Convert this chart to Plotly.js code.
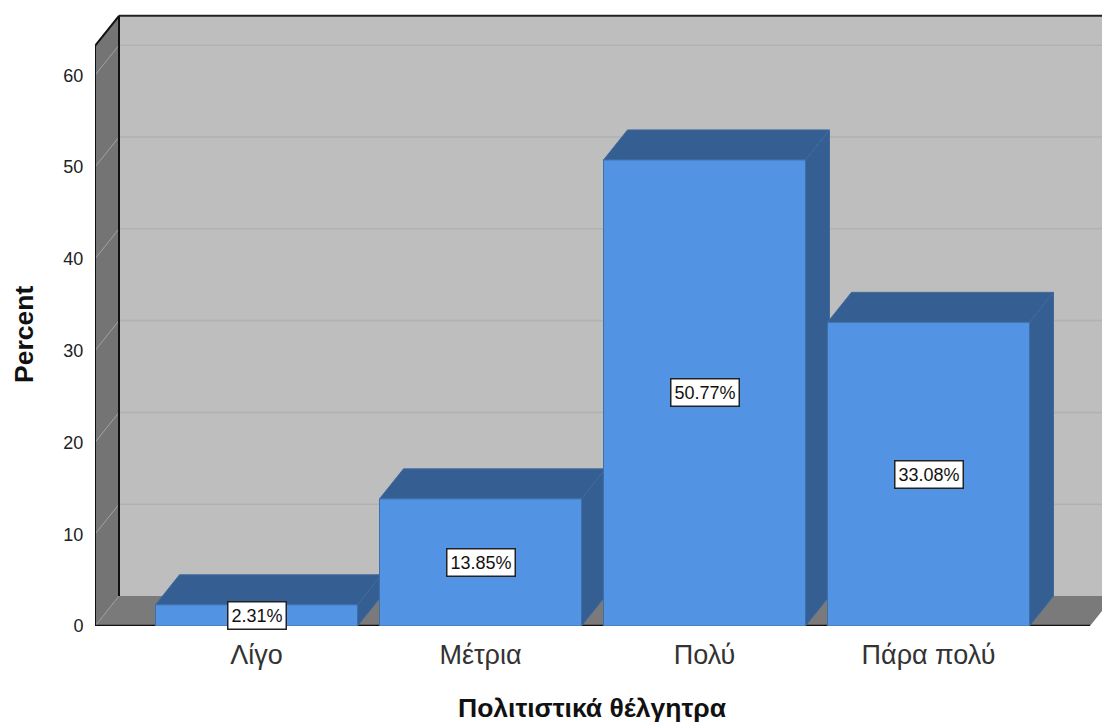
<!DOCTYPE html>
<html><head><meta charset="utf-8">
<script src="https://cdn.plot.ly/plotly-3.0.1.min.js"></script>
<style>html,body{margin:0;padding:0;background:#fff;overflow:hidden}</style>
</head><body><div id="chart" style="width:1102px;height:722px"></div>
<script>
const categories = ['Λίγο', 'Μέτρια', 'Πολύ', 'Πάρα πολύ'];
const percentValues = [2.31, 13.85, 50.77, 33.08];
const yTicks = [0, 10, 20, 30, 40, 50, 60];
const xTitle = 'Πολιτιστικά θέλγητρα';
const yTitle = 'Percent';

const pxPerY = 9.18, pxPerX = 224;
const depthX = 24 / pxPerX, depthY = 30 / pxPerY;
const barWidth = 202 / pxPerX;
const xMin = (95 - 256.5) / pxPerX, xMax = (1102 - 256.5) / pxPerX;
const wallRight = (1090 - 256.5) / pxPerX;
const wallTop = 63.2;
const idx = categories.map((_, i) => i);

const FONT = 'Liberation Sans, Arial, sans-serif';
const FRONT = '#5294E3', SHADE = '#355E92', EDGE = '#3F6FA8';

function poly(pts, fill, line, width) {
  const path = pts.map((p, i) => (i ? 'L' : 'M') + p[0] + ',' + p[1]).join(' ') + ' Z';
  return {type: 'path', xref: 'x', yref: 'y', layer: 'below', path,
    fillcolor: fill, line: {color: line || fill, width: width === undefined ? 1 : width}};
}
function seg(x0, y0, x1, y1, color, width) {
  return {type: 'line', xref: 'x', yref: 'y', layer: 'below', x0, y0, x1, y1,
    line: {color, width}};
}

const shapes = [];
// back wall, left wall, floor
shapes.push(poly([[xMin + depthX, depthY], [xMax + 1, depthY], [xMax + 1, wallTop + depthY], [xMin + depthX, wallTop + depthY]], '#BEBEBE', '#BEBEBE', 0));
shapes.push(poly([[xMin, 0], [xMin + depthX, depthY], [xMin + depthX, wallTop + depthY], [xMin, wallTop]], '#747474', '#747474', 0));
shapes.push(poly([[xMin, 0], [wallRight, 0], [wallRight + depthX, depthY], [xMin + depthX, depthY]], '#7A7A7A', '#7A7A7A', 0));
// gridlines
yTicks.slice(1).forEach(v => {
  shapes.push(seg(xMin, v, xMin + depthX, v + depthY, '#A2A2A2', 1));
  shapes.push(seg(xMin + depthX, v + depthY, xMax, v + depthY, '#B1B1B1', 1.5));
});
shapes.push(seg(xMin, 0, xMin + depthX, depthY, '#9A9A9A', 1));
// frame
shapes.push(seg(xMin + depthX, depthY, xMin + depthX, wallTop + depthY, '#111', 2));
shapes.push(seg(xMin + depthX, wallTop + depthY, xMax, wallTop + depthY, '#222', 2));
shapes.push(seg(xMin, wallTop, xMin + depthX, wallTop + depthY, '#111', 2));
shapes.push(seg(xMin, 0, xMin, wallTop, '#111', 2));
shapes.push(seg(xMin, 0, wallRight, 0, '#111', 2.5));
// bar depth faces
idx.forEach(i => {
  const L = i - barWidth / 2, R = i + barWidth / 2, v = percentValues[i];
  shapes.push(poly([[L, v], [R, v], [R + depthX, v + depthY], [L + depthX, v + depthY]], SHADE, '#416A9C', 1));
  shapes.push(poly([[R, 0], [R + depthX, depthY], [R + depthX, v + depthY], [R, v]], SHADE, '#416A9C', 1));
});

const annotations = idx.map(i => ({
  x: i, y: percentValues[i] / 2, xref: 'x', yref: 'y', showarrow: false,
  text: percentValues[i].toFixed(2) + '%',
  font: {family: FONT, size: 18, color: '#111'},
  bgcolor: '#fff', bordercolor: '#222', borderwidth: 1.5, borderpad: 3
}));
annotations.push({
  xref: 'x', yref: 'paper', x: (592 - 256.5) / pxPerX, y: -(708 - 626) / 626, yanchor: 'middle',
  showarrow: false, text: '<b>' + xTitle + '</b>', font: {family: FONT, size: 26.5, color: '#111'}
});
annotations.push({
  xref: 'paper', yref: 'paper', x: -(95 - 24) / 1007, y: 1 - 335 / 626, xanchor: 'center', yanchor: 'middle',
  textangle: -90, showarrow: false, text: '<b>' + yTitle + '</b>', font: {family: FONT, size: 26.5, color: '#111'}
});

const data = [{
  type: 'bar', x: idx, y: percentValues, width: barWidth,
  marker: {color: FRONT, line: {color: EDGE, width: 1}},
  hoverinfo: 'x+y', showlegend: false
}];
const layout = {
  width: 1102, height: 722,
  margin: {l: 95, r: 0, t: 0, b: 96, pad: 0},
  paper_bgcolor: '#fff', plot_bgcolor: 'rgba(0,0,0,0)',
  showlegend: false,
  xaxis: {range: [xMin, xMax], tickmode: 'array', tickvals: idx, ticktext: categories,
    showgrid: false, zeroline: false, showline: false, ticks: 'outside', ticklen: 5, tickcolor: 'rgba(0,0,0,0)',
    tickfont: {family: FONT, size: 27, color: '#333'}},
  yaxis: {range: [0, 626 / pxPerY], tickmode: 'array', tickvals: yTicks, ticktext: yTicks.map(String),
    showgrid: false, zeroline: false, showline: false, ticks: 'outside', ticklen: 7, tickcolor: 'rgba(0,0,0,0)',
    tickfont: {family: FONT, size: 18, color: '#222'}},
  shapes, annotations
};
Plotly.newPlot('chart', data, layout, {displayModeBar: false, staticPlot: true});
</script></body></html>
